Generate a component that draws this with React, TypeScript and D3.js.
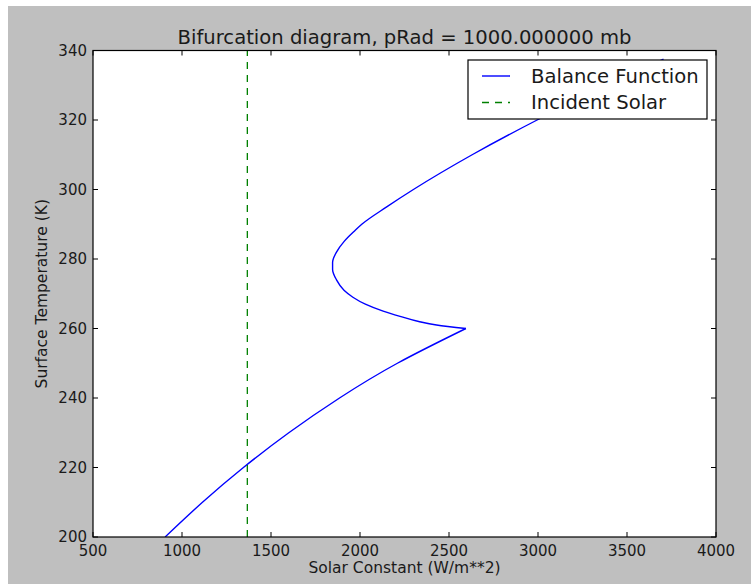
import React, { useEffect, useRef } from 'react';
import * as d3 from 'd3';

// balance function (surface temperature K -> solar constant W/m**2)
const tempK = [200, 210, 220, 230, 240, 250, 260, 261, 262, 263.5, 265, 267, 269, 271, 274, 277, 279, 282, 285, 288, 290, 295, 300, 310, 320, 330, 337.5];
const solarConst = [905, 1115, 1345, 1600, 1885, 2210, 2595, 2430, 2330, 2225, 2130, 2030, 1960, 1910, 1868, 1846, 1846, 1868, 1910, 1968, 2010, 2150, 2300, 2630, 2995, 3390, 3705];
const incidentSolar = 1367;

const xTicks = [500, 1000, 1500, 2000, 2500, 3000, 3500, 4000];
const yTicks = [200, 220, 240, 260, 280, 300, 320, 340];
const legendLabels = ['Balance Function', 'Incident Solar'];

const W = 751, H = 584;
const FONT = 'DejaVu Sans, sans-serif';

const App = () => {
  const ref = useRef<SVGSVGElement>(null);

  useEffect(() => {
    const svg = d3.select(ref.current);
    svg.selectAll('*').remove();

    const left = 93, right = 716, top = 50.5, bottom = 537;
    const x = d3.scaleLinear().domain([500, 4000]).range([left, right]);
    const y = d3.scaleLinear().domain([200, 340]).range([bottom, top]);

    // figure background
    svg.append('rect').attr('width', W).attr('height', H).attr('fill', '#fff');
    svg.append('rect').attr('x', 8).attr('y', 6).attr('width', W - 8).attr('height', H - 6).attr('fill', '#bfbfbf');
    svg.append('rect').attr('x', left).attr('y', top)
      .attr('width', right - left).attr('height', bottom - top).attr('fill', '#fff');

    const pts = tempK.map((t, i) => ({ t, s: solarConst[i] }));
    // split at the sharp corner so the spline keeps it pointed
    const peak = d3.maxIndex(pts.filter(p => p.t <= 262), p => p.s);
    const lower = d3.line<{ t: number; s: number }>()
      .x(d => x(d.s)).y(d => y(d.t))
      .curve(d3.curveNatural);
    const upper = d3.line<{ t: number; s: number }>()
      .x(d => x(d.s)).y(d => y(d.t))
      .curve(d3.curveMonotoneY);

    const g = svg.append('g');
    g.append('clipPath').attr('id', 'plotclip').append('rect')
      .attr('x', left).attr('y', top).attr('width', right - left).attr('height', bottom - top);
    const plot = g.append('g').attr('clip-path', 'url(#plotclip)');

    plot.append('path').attr('d', lower(pts.slice(0, peak + 1))!)
      .attr('fill', 'none').attr('stroke', '#0000ff').attr('stroke-width', 1.4);
    plot.append('path').attr('d', upper(pts.slice(peak))!)
      .attr('fill', 'none').attr('stroke', '#0000ff').attr('stroke-width', 1.4);

    plot.append('line')
      .attr('x1', x(incidentSolar)).attr('x2', x(incidentSolar))
      .attr('y1', y(200)).attr('y2', y(340))
      .attr('stroke', '#008000').attr('stroke-width', 1.3)
      .attr('stroke-dasharray', '7,6');

    // ticks, inside, on all four sides
    const tl = 5;
    xTicks.forEach(v => {
      svg.append('line').attr('x1', x(v)).attr('x2', x(v)).attr('y1', bottom).attr('y2', bottom - tl).attr('stroke', '#000');
      svg.append('line').attr('x1', x(v)).attr('x2', x(v)).attr('y1', top).attr('y2', top + tl).attr('stroke', '#000');
      svg.append('text').attr('x', x(v)).attr('y', 555.5)
        .attr('text-anchor', 'middle').attr('font-family', FONT).attr('font-size', 15)
        .attr('fill', '#1a1a1a').text(String(v));
    });
    yTicks.forEach(v => {
      svg.append('line').attr('x1', left).attr('x2', left + tl).attr('y1', y(v)).attr('y2', y(v)).attr('stroke', '#000');
      svg.append('line').attr('x1', right).attr('x2', right - tl).attr('y1', y(v)).attr('y2', y(v)).attr('stroke', '#000');
      svg.append('text').attr('x', 87).attr('y', y(v) + 5.4)
        .attr('text-anchor', 'end').attr('font-family', FONT).attr('font-size', 15)
        .attr('fill', '#1a1a1a').text(String(v));
    });

    svg.append('rect').attr('x', left).attr('y', top)
      .attr('width', right - left).attr('height', bottom - top)
      .attr('fill', 'none').attr('stroke', '#000').attr('stroke-width', 1.2);

    // titles
    svg.append('text').attr('x', (left + right) / 2).attr('y', 44)
      .attr('text-anchor', 'middle').attr('font-family', FONT).attr('font-size', 19.6)
      .attr('fill', '#1a1a1a').text('Bifurcation diagram, pRad = 1000.000000 mb');
    svg.append('text').attr('x', (left + right) / 2).attr('y', 573)
      .attr('text-anchor', 'middle').attr('font-family', FONT).attr('font-size', 15.5)
      .attr('fill', '#1a1a1a').text('Solar Constant (W/m**2)');
    svg.append('text')
      .attr('transform', `translate(47,${(top + bottom) / 2}) rotate(-90)`)
      .attr('text-anchor', 'middle').attr('font-family', FONT).attr('font-size', 15.5)
      .attr('fill', '#1a1a1a').text('Surface Temperature (K)');

    // legend
    const lg = svg.append('g');
    lg.append('rect').attr('x', 468).attr('y', 60).attr('width', 239).attr('height', 59)
      .attr('fill', '#fff').attr('stroke', '#000').attr('stroke-width', 1.2);
    const rows = [
      { label: legendLabels[0], color: '#0000ff', dash: null, cy: 76 },
      { label: legendLabels[1], color: '#008000', dash: '7,6', cy: 102.5 },
    ];
    rows.forEach(r => {
      lg.append('line').attr('x1', 482).attr('x2', 510).attr('y1', r.cy).attr('y2', r.cy)
        .attr('stroke', r.color).attr('stroke-width', 1.4)
        .attr('stroke-dasharray', r.dash);
      lg.append('text').attr('x', 531).attr('y', r.cy + 6.8)
        .attr('font-family', FONT).attr('font-size', 19.6).attr('fill', '#1a1a1a').text(r.label);
    });
  }, []);

  return (
    <svg ref={ref} width={W} height={H}
      style={{ position: 'absolute', left: 0, top: 0, display: 'block' }} />
  );
};

export default App;
